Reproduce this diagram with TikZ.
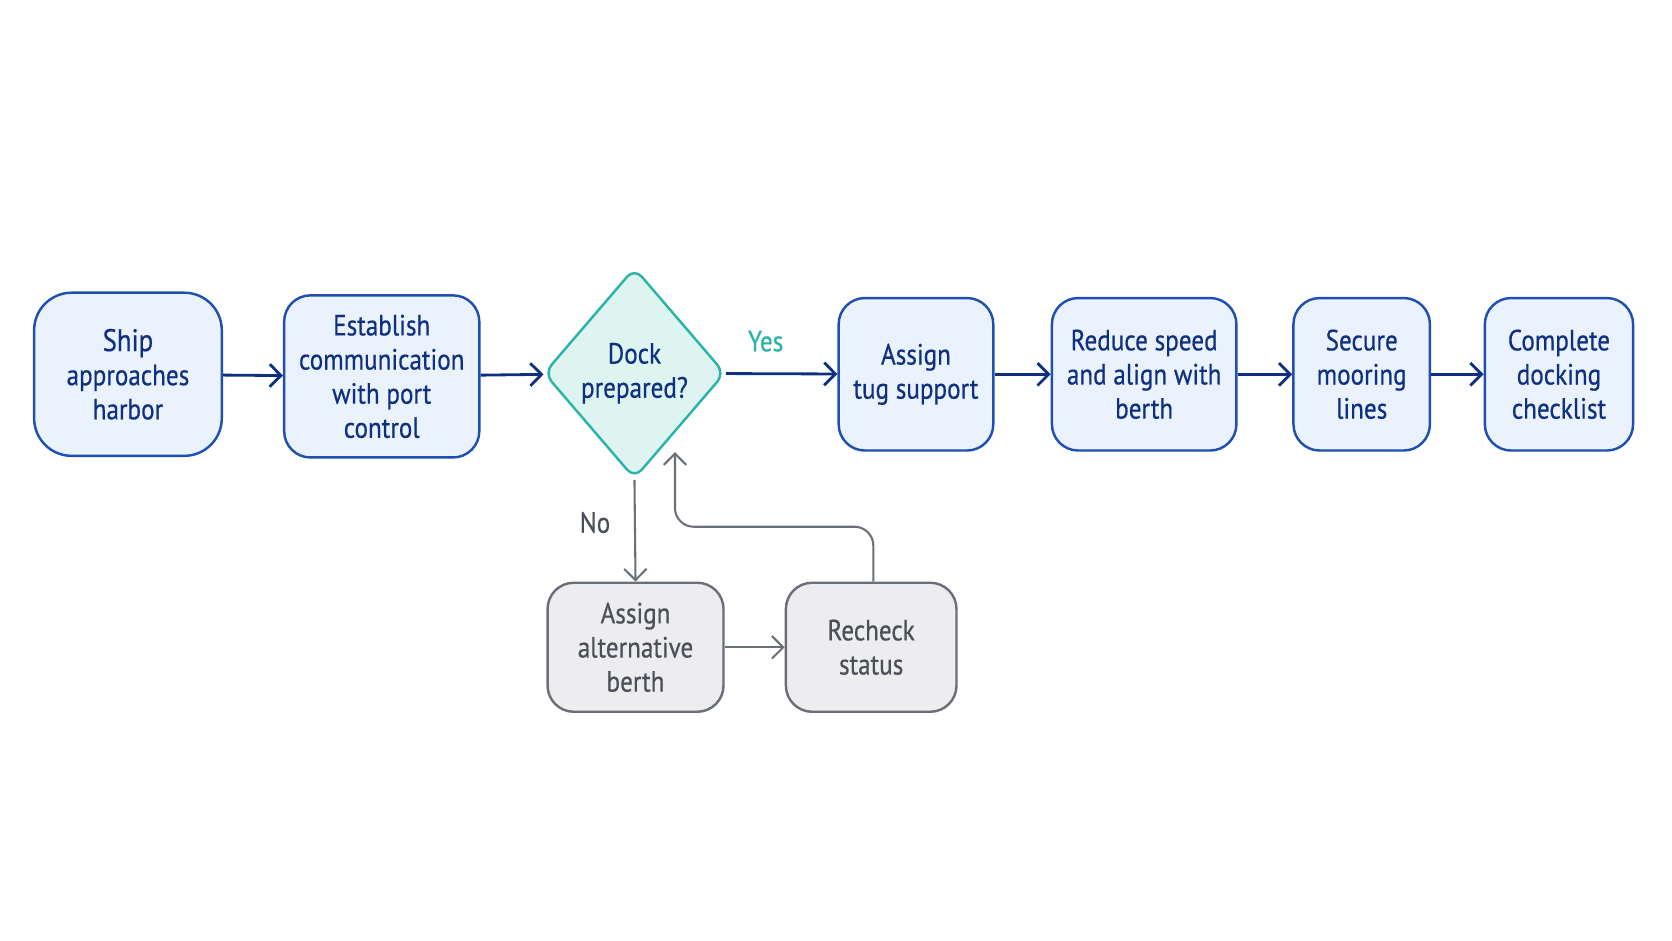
\documentclass[tikz,border=0pt]{standalone}
\usepackage{fontspec}
\setmainfont{PT Sans}[FakeStretch=0.86,FakeBold=0.5]
\usetikzlibrary{shapes.geometric,arrows.meta}
\definecolor{bfill}{HTML}{EAF3FD}
\definecolor{bdraw}{HTML}{1F4FB0}
\definecolor{btext}{HTML}{0F2F80}
\definecolor{dfill}{HTML}{DDF4F1}
\definecolor{ddraw}{HTML}{2BB3A8}
\definecolor{gfill}{HTML}{EDEDEF}
\definecolor{gdraw}{HTML}{6B6F78}
\definecolor{gtext}{HTML}{4A4F58}
\begin{document}
\begin{tikzpicture}[x=0.01cm,y=-0.01cm,
  txt/.style={font=\fontsize{7.8}{9.1}\selectfont,align=center},
  box/.style={txt,draw=bdraw,fill=bfill,text=btext,line width=0.65pt,rounded corners=7pt,inner sep=0pt},
  gbox/.style={txt,draw=gdraw,fill=gfill,text=gtext,line width=0.65pt,rounded corners=7pt,inner sep=0pt},
  arr/.style={-{Straight Barb[length=3pt,width=6pt]},line width=0.75pt,draw=btext},
  garr/.style={-{Straight Barb[length=3pt,width=6pt]},line width=0.55pt,draw=gdraw}]
\useasboundingbox[fill=white] (0,0) rectangle (1568,882);
\node[box,minimum width=176*0.01cm,minimum height=153*0.01cm,rounded corners=10pt] (a) at (120,351) {\fontsize{8.3}{9.6}\selectfont Ship\\approaches\\harbor};
\node[box,minimum width=183*0.01cm,minimum height=152*0.01cm] (b) at (358,353) {Establish\\communication\\with port\\control};
\node[diamond,draw=ddraw,fill=dfill,text=btext,txt,line width=0.65pt,rounded corners=3pt,minimum width=170*0.01cm,minimum height=198*0.01cm,inner sep=0pt] (d) at (595,350) {Dock\\prepared?};
\node[box,minimum width=145*0.01cm,minimum height=143*0.01cm] (c) at (859,351) {Assign\\tug support};
\node[box,minimum width=173*0.01cm,minimum height=143*0.01cm] (e) at (1073,351) {Reduce speed\\and align with\\berth};
\node[box,minimum width=128*0.01cm,minimum height=143*0.01cm] (f) at (1277,351) {Secure\\mooring\\lines};
\node[box,minimum width=139*0.01cm,minimum height=143*0.01cm] (g) at (1462,351) {Complete\\docking\\checklist};
\node[gbox,minimum width=165*0.01cm,minimum height=121*0.01cm] (h) at (596,607) {Assign\\alternative\\berth};
\node[gbox,minimum width=160*0.01cm,minimum height=121*0.01cm] (i) at (817,607) {Recheck\\status};
\node[txt,text=ddraw] (yes) at (718,320) {Yes};
\node[txt,text=gtext] (no) at (558,490) {No};
\draw[arr] (a) -- (b);
\draw[arr] (b) -- (d);
\draw[arr] (d) -- (c);
\draw[arr] (c) -- (e);
\draw[arr] (e) -- (f);
\draw[arr] (f) -- (g);
\draw[garr] (d.south) -- (h.north);
\draw[garr] (h) -- (i);
\coordinate (t) at (633,424);
\draw[garr,rounded corners=5pt] (i.north -| 819,0) -- (819,494) -- (633,494) -- (t);
\end{tikzpicture}
\end{document}
